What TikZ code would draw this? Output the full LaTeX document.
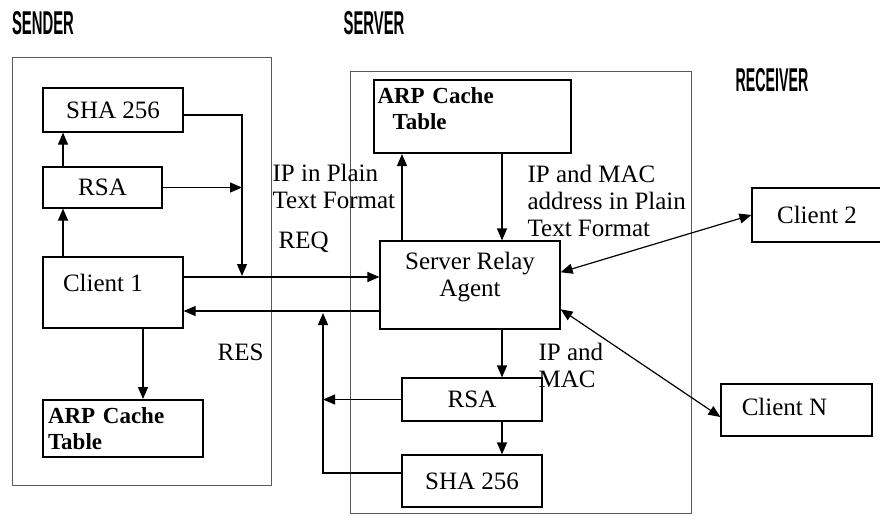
\documentclass[tikz,border=0pt]{standalone}
\usepackage{fontspec}
\setmainfont{Liberation Serif}
\newfontfamily\hdrfont{Liberation Sans}
\usetikzlibrary{arrows.meta}

\begin{document}
\begin{tikzpicture}[x=1pt,y=-1pt,
  >={Triangle[length=12pt,width=10pt]},
  line width=1.2pt,
  blk/.style={draw,inner sep=0pt,font=\fontsize{25}{27}\selectfont},
  tbl/.style={draw,line width=2pt,inner sep=0pt},
  tbltxt/.style={inner sep=0pt,align=left,font=\bfseries\fontsize{23}{26}\selectfont},
  lbl/.style={inner sep=0pt,align=left,font=\fontsize{25}{27}\selectfont},
  hdr/.style={inner sep=0pt,font=\hdrfont\bfseries\fontsize{33}{36}\selectfont},
  area/.style={draw=black!65,line width=1pt}]
\useasboundingbox (0,0) rectangle (880,515);

\node[hdr] (snd) at (43,23) {\scalebox{0.45}[1]{SENDER}};
\node[hdr] (srv) at (374,23) {\scalebox{0.45}[1]{SERVER}};
\node[hdr] (rcv) at (772,80) {\scalebox{0.43}[1]{RECEIVER}};

\draw[area] (12,57) rectangle (271,485);
\draw[area] (350,71) rectangle (691,513);

\node[blk,minimum width=140,minimum height=44] (sha1) at (113,110) {SHA 256};
\node[blk,minimum width=119,minimum height=41] (rsa1) at (102.5,187.5) {RSA};
\node[blk,minimum width=140,minimum height=71,
  label={[lbl,xshift=-10pt,yshift=10pt]center:Client 1}] (cl1) at (113,292.5) {};
\node[tbl,minimum width=160,minimum height=57,
  label={[tbltxt,text width=150]center:ARP Cache\\Table}] (arp1) at (123,428.5) {};

\node[tbl,minimum width=197,minimum height=73,
  label={[tbltxt,text width=190,yshift=8pt]center:ARP Cache\\\hspace*{15pt}Table}] (arp2) at (472.5,116.5) {};
\node[blk,minimum width=180,minimum height=88,
  label={[lbl,align=center,yshift=8pt]center:Server Relay\\Agent}] (agent) at (470,285) {};
\node[blk,minimum width=140,minimum height=43] (rsa2) at (472,399.5) {RSA};
\node[blk,minimum width=140,minimum height=52] (sha2) at (472,481) {SHA 256};

\node[blk,minimum width=130,minimum height=54] (cl2) at (817,215) {Client 2};
\node[blk,minimum width=151,minimum height=52,
  label={[lbl,xshift=-12pt,yshift=3pt]center:Client N}] (clN) at (796.5,410) {};

\node[lbl,anchor=west] (ipplain) at (272,186.5) {IP in Plain\\Text Format};
\node[lbl,anchor=west] (req) at (278,242) {REQ};
\node[lbl,anchor=west] (res) at (217,352) {RES};
\node[lbl,anchor=west] (ipmac) at (527,201) {IP and MAC\\address in Plain\\Text Format};
\node[lbl,anchor=west] (ipmac2) at (538,365) {IP and\\MAC};

\coordinate (c1) at (63,0);
\coordinate (c4) at (143,0);
\coordinate (c2) at (402,0);
\coordinate (c3) at (502,0);
\coordinate (reqy) at (0,277);
\coordinate (resy) at (0,311);
\coordinate (j1) at (242,276);
\coordinate (j2) at (323,313);

\draw[->] (cl1.north -| c1) -- (rsa1.south -| c1);
\draw[->] (rsa1.north -| c1) -- (sha1.south -| c1);
\draw[->] (cl1.south -| c4) -- (arp1.north -| c4);
\draw[->] ([yshift=-5pt]sha1.east) -| (j1);
\draw[->] (rsa1.east) -- (rsa1.east -| j1);
\draw[->] (cl1.east |- reqy) -- (agent.west |- reqy);
\draw[->] (agent.west |- resy) -- (cl1.east |- resy);
\draw[->] ([yshift=8pt]sha2.west) -| (j2);
\draw[->] (rsa2.west) -- (rsa2.west -| j2);
\draw[->] (agent.north -| c2) -- (arp2.south -| c2);
\draw[->] (arp2.south -| c3) -- (agent.north -| c3);
\draw[->] (agent.south -| c3) -- (rsa2.north -| c3);
\draw[->] (rsa2.south -| c3) -- (sha2.north -| c3);
\draw[<->] (agent.8) -- (cl2.west);
\draw[<->] (agent.-15) -- ([yshift=-7pt]clN.west);
\end{tikzpicture}
\end{document}
